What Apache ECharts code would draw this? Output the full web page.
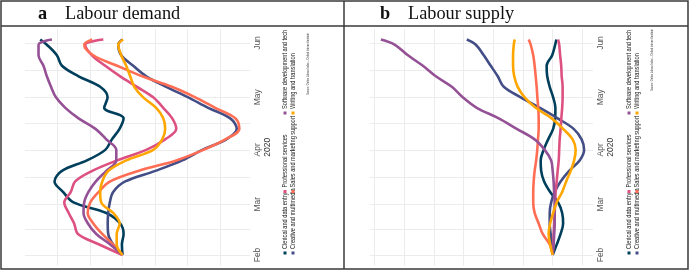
<!DOCTYPE html>
<html>
<head>
<meta charset="utf-8">
<title>Labour demand and supply</title>
<script src="https://cdn.jsdelivr.net/npm/echarts@6.0.0/dist/echarts.min.js"></script>
<style>
  html, body { margin: 0; padding: 0; background: #fff; }
  #chart { width: 690px; height: 272px; }
</style>
</head>
<body>
<div id="chart"></div>
<script>
// days since 1 Feb 2020 of each sampled point
const sampleDays = [0, 6, 12, 18, 24, 30, 36, 42, 48, 54, 60, 66, 72, 78, 84, 90, 96, 102, 108, 114, 120, 123];
const monthStarts = [0, 29, 60, 90, 121];
const monthNames = ["Feb", "Mar", "Apr", "May", "Jun"];
const dayGrid = [0, 14.5, 29, 44.5, 60, 75, 90, 105.5, 121];
const demandTicks = [25, 50, 75, 100, 125, 150];
const supplyTicks = [75, 100, 125, 150, 175, 200, 225, 250];

const seriesNames = [
  "Clerical and data entry",
  "Creative and multimedia",
  "Professional services",
  "Sales and marketing support",
  "Software development and tech",
  "Writing and translation",
];

// a: labour demand
const demandClerical = [100, 100.5, 99.2, 101.8, 112.5, 137.7, 145.8, 152.3, 146.6, 127.4, 113.3, 108.2, 102.3, 99.2, 114.1, 111.5, 117.2, 133.8, 146.6, 150.5, 158.2, 163.3];
const demandCreative = [100, 107.2, 111, 111.4, 111, 109.8, 107.2, 97.9, 74.8, 54.1, 38.7, 20.2, 12.2, 17.2, 34.1, 49.5, 66.4, 81.8, 91.8, 101, 103.3, 100.2];
const demandProfessional = [100, 117.9, 134.3, 137.2, 141.4, 144.8, 139.8, 136.4, 123.3, 104.1, 81.8, 67.2, 58.7, 61.8, 68.7, 76.4, 88.9, 101.8, 113.3, 123.5, 128.7, 114.8];
const demandSales = [100, 107.2, 115.6, 122.5, 126.8, 124.8, 118.3, 109.5, 87.9, 58.7, 37.9, 21, 10.2, 13.3, 28.7, 44.1, 62.1, 84.8, 104.1, 122.5, 129.5, 123.3];
const demandSoftware = [100, 109.5, 120.2, 126.6, 130, 129.5, 126.2, 120.5, 112.5, 104.8, 104.8, 112.5, 120.8, 133.8, 144, 151.2, 155, 158.2, 160.8, 164.6, 164.6, 154.3];
const demandWriting = [100, 104.5, 104.5, 102.2, 107.2, 116.4, 117.2, 115.6, 111, 97.2, 76.4, 69.5, 67.2, 68.7, 74.1, 84.1, 91, 94.1, 97.2, 101, 103.3, 99.5];

// b: labour supply
const supplyClerical = [100, 96.6, 93.3, 91.2, 92, 95.4, 102.1, 107.2, 109.7, 110.1, 107.6, 103.8, 99.6, 97.9, 97.7, 99.6, 102.5, 104.6, 105.1, 100.4, 97.9, 96.9];
const supplyCreative = [100, 100.8, 101.7, 102.5, 102.5, 101.3, 98.3, 93.3, 86.1, 77.3, 73.5, 75.6, 82.3, 95.8, 110.9, 126.9, 141.2, 146.3, 152.2, 158.1, 164.8, 172.4];
const supplyProfessional = [100, 99.6, 99.2, 98.7, 98.3, 97.9, 97.5, 96.6, 95.8, 94.9, 94.5, 94.1, 93.3, 92.7, 92, 91.6, 91.6, 92.4, 92.8, 93.7, 94.5, 95.4];
const supplySales = [100, 102.5, 108.4, 111.8, 115.2, 116.4, 116.4, 116, 115.2, 113.9, 113, 112.4, 111.8, 111.8, 112.2, 112.9, 113.5, 114.3, 115.2, 116.4, 118.5, 120.2];
const supplySoftware = [100, 99.2, 98.7, 98.3, 98.3, 98.3, 98.7, 99.2, 100, 101.3, 106.7, 115.2, 130.3, 145.5, 164, 175.8, 185, 198.5, 209.4, 222, 233, 244.8];
const supplyWriting = [100, 102.1, 103.4, 102.1, 99.6, 96.6, 92, 88.6, 84.8, 81.9, 80.6, 83.2, 91.2, 100.8, 114.3, 123.6, 129.5, 132.4, 133.4, 133.4, 132.8, 132];

const colors = ["#003f5c", "#444e86", "#dd5182", "#ff6e54", "#955196", "#ffa600"];
const sans = "'Liberation Sans', Arial, sans-serif";
const serif = "'Liberation Serif', 'Times New Roman', serif";

const demand = [demandClerical, demandCreative, demandProfessional, demandSales, demandSoftware, demandWriting];
const supply = [supplyClerical, supplyCreative, supplyProfessional, supplySales, supplySoftware, supplyWriting];

const myChart = echarts.init(document.getElementById("chart"));

const makeX = (idx, min, max, ticks) => ({
  type: "value",
  gridIndex: idx,
  inverse: true,
  min: min,
  max: max,
  axisLine: { show: false },
  axisTick: { show: false, customValues: ticks },
  axisLabel: { show: false, customValues: ticks },
  splitLine: { show: true, lineStyle: { color: "#ececec", width: 1 } },
});

const makeY = (idx) => ({
  type: "value",
  gridIndex: idx,
  position: "right",
  min: -6,
  max: 129,
  name: "2020",
  nameLocation: "middle",
  nameRotate: 90,
  nameGap: 12,
  nameTextStyle: { color: "#333", fontSize: 8.5, fontFamily: sans },
  axisLine: { show: false },
  axisTick: { show: false, customValues: dayGrid },
  axisLabel: {
    customValues: monthStarts,
    rotate: 90,
    margin: 3,
    color: "#555",
    fontSize: 8.5,
    fontFamily: sans,
    formatter: (v) => monthNames[monthStarts.indexOf(v)] || "",
  },
  splitLine: { show: true, lineStyle: { color: "#ececec", width: 1 } },
});

const series = [];
[demand, supply].forEach((panel, p) => {
  panel.forEach((vals, i) => {
    series.push({
      name: seriesNames[i],
      type: "line",
      xAxisIndex: p,
      yAxisIndex: p,
      smooth: 0.35,
      showSymbol: false,
      lineStyle: { width: 2.6, color: colors[i] },
      itemStyle: { color: colors[i] },
      data: vals.map((v, k) => [v, sampleDays[k]]),
    });
  });
});

// legend laid out like the rotated ggplot legend: 2 rows, 3 columns
const legendOrder = [[0, 2, 4], [1, 3, 5]];
const colY = [253, 191.5, 113];
const legendGraphics = [];
[[285, "Source: Online Labour Index \u2013 Oxford Internet Institute", 33], [629, "Source: Online Labour Index \u2013 Oxford Internet Institute", 29]].forEach(([x0, source, srcY]) => {
  legendOrder.forEach((row, r) => {
    const x = x0 + r * 8;
    row.forEach((si, c) => {
      legendGraphics.push({
        type: "rect",
        shape: { x: x - 1.5, y: colY[c] - 1.5, width: 3, height: 3 },
        style: { fill: colors[si] },
      });
      legendGraphics.push({
        type: "text",
        x: x,
        y: colY[c] - 4,
        rotation: Math.PI / 2,
        scaleX: 0.75,
        style: {
          text: seriesNames[si],
          fill: "#222",
          fontSize: 7.5,
          fontFamily: sans,
          textAlign: "left",
          textVerticalAlign: "middle",
        },
      });
    });
  });
  legendGraphics.push({
    type: "text",
    x: x0 + 23,
    y: srcY,
    rotation: Math.PI / 2,
    scaleX: 0.75,
    style: {
      text: source,
      fill: "#333",
      fontSize: 3.4,
      fontFamily: sans,
      textAlign: "right",
      textVerticalAlign: "middle",
    },
  });
});

const frame = { stroke: "#3a3a3a", lineWidth: 1.5 };
const titleStyle = { fontSize: 18.3, fontFamily: serif, fill: "#111", textVerticalAlign: "middle" };

myChart.setOption({
  animation: false,
  grid: [
    { left: 25, right: 440, top: 29, bottom: 6.5 },
    { left: 370, right: 97, top: 29, bottom: 6.5 },
  ],
  xAxis: [makeX(0, 2, 175, demandTicks), makeX(1, 66, 254, supplyTicks)],
  yAxis: [makeY(0), makeY(1)],
  series: series,
  graphic: [
    { type: "rect", shape: { x: 1, y: 1, width: 687, height: 268 }, style: { fill: null, ...frame } },
    { type: "line", shape: { x1: 1, y1: 26, x2: 688, y2: 26 }, style: frame },
    { type: "line", shape: { x1: 344, y1: 1, x2: 344, y2: 269 }, style: frame },
    { type: "text", x: 38, y: 14, style: { ...titleStyle, text: "a", fontWeight: "bold" } },
    { type: "text", x: 65, y: 14, style: { ...titleStyle, text: "Labour demand" } },
    { type: "text", x: 380, y: 14, style: { ...titleStyle, text: "b", fontWeight: "bold" } },
    { type: "text", x: 408, y: 14, style: { ...titleStyle, text: "Labour supply" } },
    ...legendGraphics,
  ],
});
</script>
</body>
</html>
